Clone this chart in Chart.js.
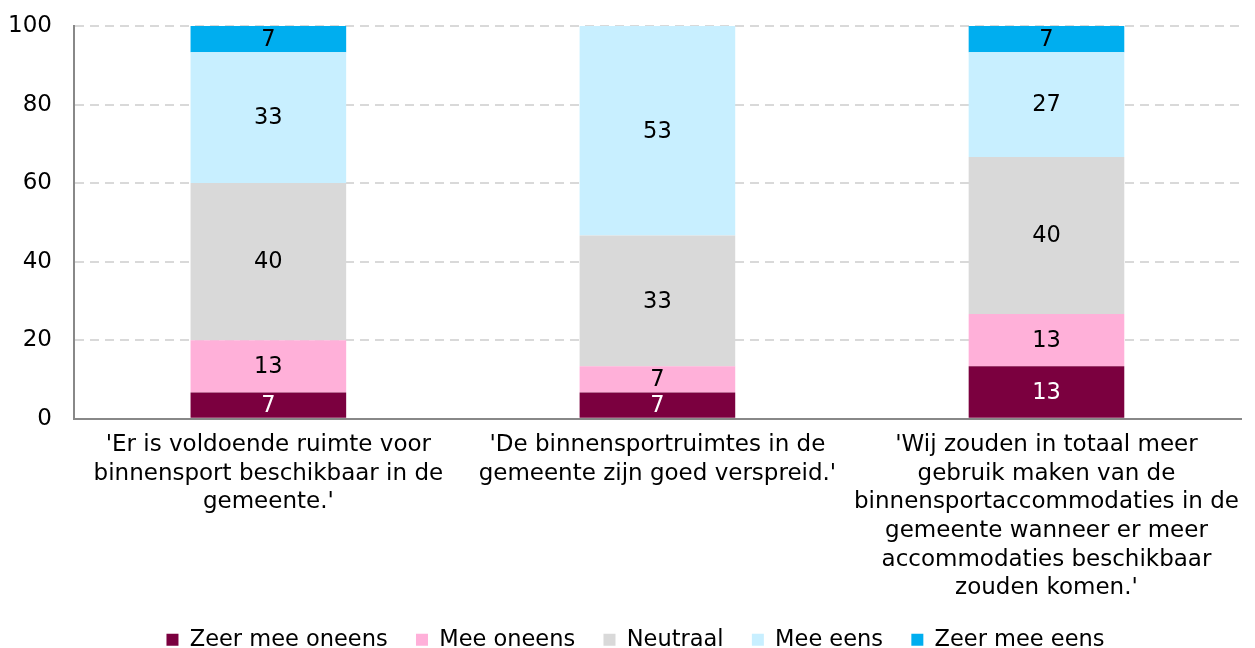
<!DOCTYPE html>
<html>
<head>
<meta charset="utf-8">
<script src="https://cdn.jsdelivr.net/npm/chart.js@4"></script>
<style>
  html, body { margin: 0; padding: 0; background: #fff; }
  #wrap { width: 1255px; height: 648px; }
</style>
</head>
<body>
<div id="wrap"><canvas id="myChart" width="1255" height="648"></canvas></div>
<script>
// categorieën (stellingen)
const categories = [
    ["'Er is voldoende ruimte voor", "binnensport beschikbaar in de", "gemeente.'"],
    ["'De binnensportruimtes in de", "gemeente zijn goed verspreid.'"],
    ["'Wij zouden in totaal meer", "gebruik maken van de", "binnensportaccommodaties in de", "gemeente wanneer er meer", "accommodaties beschikbaar", "zouden komen.'"]
];

const seriesNames = ["Zeer mee oneens", "Mee oneens", "Neutraal", "Mee eens", "Zeer mee eens"];

// percentages per antwoordcategorie
const zeerMeeOneens = [6.67, 6.67, 13.33];
const meeOneens     = [13.33, 6.67, 13.33];
const neutraal      = [40, 33.33, 40];
const meeEens       = [33.33, 53.33, 26.67];
const zeerMeeEens   = [6.67, 0, 6.67];

const yTicks = [0, 20, 40, 60, 80, 100];

const colors = ['#7B003F', '#FFB0D9', '#D9D9D9', '#C8EFFF', '#00AEEF'];
const labelColors = ['#ffffff', '#000000', '#000000', '#000000', '#000000'];

const FONT = "'DejaVu Sans', Verdana, sans-serif";

// Plugin voor de waarden in de balken
const valueLabels = {
    id: 'valueLabels',
    afterDatasetsDraw(chart) {
        const ctx = chart.ctx;
        ctx.save();
        ctx.font = '22.5px ' + FONT;
        ctx.textAlign = 'center';
        ctx.textBaseline = 'middle';
        chart.data.datasets.forEach((ds, i) => {
            const meta = chart.getDatasetMeta(i);
            meta.data.forEach((bar, j) => {
                const v = ds.data[j];
                if (!v) return;
                ctx.fillStyle = labelColors[i];
                ctx.fillText(Math.round(v), bar.x, (bar.y + bar.base) / 2 + 1);
            });
        });
        ctx.restore();
    }
};

// legenda iets naar rechts schuiven
const legendShift = {
    id: 'legendShift',
    afterLayout(chart) {
        chart.legend.left += 11;
        chart.legend.right += 11;
    }
};

const datasets = [zeerMeeOneens, meeOneens, neutraal, meeEens, zeerMeeEens].map((d, i) => ({
    label: seriesNames[i],
    data: d,
    backgroundColor: colors[i],
    borderWidth: 0,
    barPercentage: 0.4,
    categoryPercentage: 1.0
}));

Chart.defaults.font.family = FONT;
Chart.defaults.color = '#000';

const ctx = document.getElementById('myChart').getContext('2d');
new Chart(ctx, {
    type: 'bar',
    data: { labels: categories, datasets: datasets },
    options: {
        responsive: false,
        animation: false,
        layout: { padding: { left: 8, right: 14, top: 26, bottom: -13 } },
        scales: {
            x: {
                stacked: true,
                grid: { display: false, drawTicks: false },
                border: { color: '#888888', width: 2 },
                ticks: { font: { size: 23, lineHeight: 1.245 }, maxRotation: 0, autoSkip: false, padding: 12, color: '#000' }
            },
            y: {
                stacked: true,
                min: 0,
                max: 100,
                afterBuildTicks: (axis) => { axis.ticks = yTicks.map(v => ({ value: v })); },
                grid: { color: '#D9D9D9', lineWidth: 2, drawTicks: false },
                border: { color: '#888888', width: 2, dash: [9, 6], dashOffset: 0 },
                ticks: { font: { size: 23 }, padding: 0, color: '#000', callback: (v) => v + '   ' }
            }
        },
        plugins: {
            legend: {
                position: 'bottom',
                labels: {
                    font: { size: 22.5 },
                    boxWidth: 12,
                    boxHeight: 12,
                    padding: 14,
                    color: '#000',
                    // extra spatie tussen de items
                    generateLabels: (chart) => {
                        const items = Chart.defaults.plugins.legend.labels.generateLabels(chart);
                        items.forEach((it, i) => { if (i < items.length - 1) it.text += '  '; });
                        return items;
                    }
                }
            },
            tooltip: { enabled: false }
        }
    },
    plugins: [valueLabels, legendShift]
});
</script>
</body>
</html>
